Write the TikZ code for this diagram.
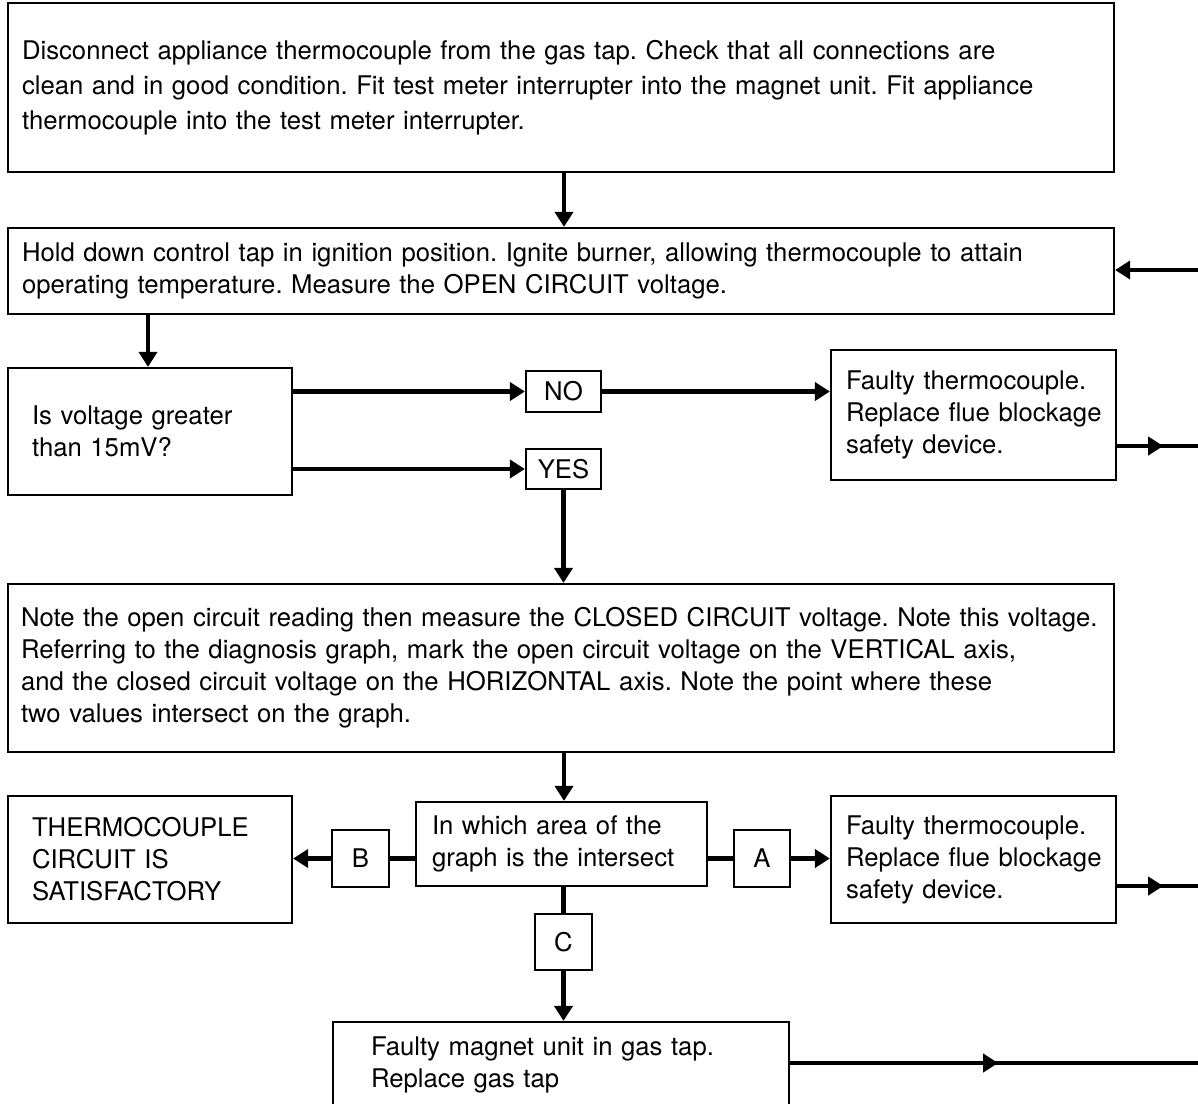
\documentclass[tikz,border=0pt]{standalone}
\usepackage{fontspec}
\setmainfont{TeX Gyre Heros}
\usetikzlibrary{arrows.meta,decorations.markings}
\begin{document}
\frenchspacing
\begin{tikzpicture}[x=1pt,y=-1pt,
  font=\fontsize{25.7}{32}\selectfont\frenchspacing,
  box/.style={draw, line width=2.2pt, align=left, inner ysep=0pt, anchor=center},
  tag/.style={draw, line width=2.2pt, inner sep=0pt, anchor=center},
  arr/.style={line width=4.5pt, -{Triangle[length=15pt,width=18pt]}},
  seg/.style={line width=4.5pt},
  midarr/.style={line width=4.5pt, postaction={decorate},
    decoration={markings, mark=at position #1 with {\arrow{Triangle[length=15pt,width=18pt]}}}},
]
\useasboundingbox (0,0) rectangle (1198,1103);
\fill[white] (0,0) rectangle (1198,1103);

\coordinate (sp) at (564,0);
\coordinate (dn) at (148,0);
\coordinate (in2) at (1198,270);
\coordinate (o1) at (1198,446);
\coordinate (o2) at (1198,886);
\coordinate (o3) at (1198,1063);

\node[box, text width=1078pt, inner xsep=14pt, minimum height=169pt, font=\fontsize{25.7}{35}\selectfont\frenchspacing] (b1) at (561,87.5)
 {\mbox{Disconnect appliance thermocouple from the gas tap. Check that all connections are}\\
  \mbox{clean and in good condition. Fit test meter interrupter into the magnet unit. Fit appliance}\\
  \mbox{thermocouple into the test meter interrupter.}};

\node[box, text width=1078pt, inner xsep=14pt, minimum height=86pt] (b2) at (561,271)
 {\mbox{Hold down control tap in ignition position. Ignite burner, allowing thermocouple to attain}\\
  \mbox{operating temperature. Measure the OPEN CIRCUIT voltage.}};

\node[box, text width=236pt, inner xsep=24pt, minimum height=127pt] (q) at (150,431.5)
 {Is voltage greater\\than 15mV?};

\node[box, text width=255pt, inner xsep=15pt, minimum height=130pt] (f1) at (973.5,415)
 {\mbox{Faulty thermocouple.}\\\mbox{Replace flue blockage}\\\mbox{safety device.}};

\node[tag, minimum width=75pt, minimum height=41pt] (no) at (563.5,391.5) {NO};
\node[tag, minimum width=75pt, minimum height=40pt] (yes) at (563.5,469) {YES};

\node[box, text width=1080pt, inner xsep=13pt, minimum height=168pt] (b4) at (561,668)
 {\mbox{Note the open circuit reading then measure the CLOSED CIRCUIT voltage. Note this voltage.}\\
  \mbox{Referring to the diagnosis graph, mark the open circuit voltage on the VERTICAL axis,}\\
  \mbox{and the closed circuit voltage on the HORIZONTAL axis. Note the point where these}\\
  \mbox{two values intersect on the graph.}};

\node[box, text width=259pt, inner xsep=16pt, minimum height=84pt] (mid) at (561.5,844)
 {\mbox{In which area of the}\\\mbox{graph is the intersect}};

\node[box, text width=236pt, inner xsep=24pt, minimum height=127pt] (ok) at (150,859.5)
 {THERMOCOUPLE\\CIRCUIT IS\\SATISFACTORY};

\node[box, text width=255pt, inner xsep=15pt, minimum height=127pt] (f2) at (973.5,859.5)
 {\mbox{Faulty thermocouple.}\\\mbox{Replace flue blockage}\\\mbox{safety device.}};

\node[tag, minimum width=57pt, minimum height=57pt] (B) at (360.5,858.5) {B};
\node[tag, minimum width=56pt, minimum height=57pt] (A) at (762,858.5) {A};
\node[tag, minimum width=57pt, minimum height=56pt] (C) at (563.5,942) {C};

\node[box, text width=380pt, inner xsep=38pt, minimum height=86pt] (mag) at (561,1065)
 {Faulty magnet unit in gas tap.\\Replace gas tap};

\draw[arr] (b1.south -| sp) -- (b2.north -| sp);
\draw[arr] (in2) -- (in2 -| b2.east);
\draw[arr] (b2.south -| dn) -- (q.north -| dn);
\draw[arr] (q.east |- no.west) -- (no.west);
\draw[arr] (no.east) -- (no.east -| f1.west);
\draw[arr] (q.east |- yes.west) -- (yes.west);
\draw[arr] (yes.south) -- (b4.north -| yes.south);
\draw[midarr=0.57] (f1.east |- o1) -- (o1);
\draw[arr] (b4.south -| sp) -- (mid.north -| sp);
\draw[seg] (mid.west |- B.east) -- (B.east);
\draw[arr] (B.west) -- (B.west -| ok.east);
\draw[seg] (mid.east |- A.west) -- (A.west);
\draw[arr] (A.east) -- (A.east -| f2.west);
\draw[midarr=0.57] (f2.east |- o2) -- (o2);
\draw[seg] (mid.south -| C.north) -- (C.north);
\draw[arr] (C.south) -- (C.south |- mag.north);
\draw[midarr=0.51] (mag.east |- o3) -- (o3);
\end{tikzpicture}
\end{document}
